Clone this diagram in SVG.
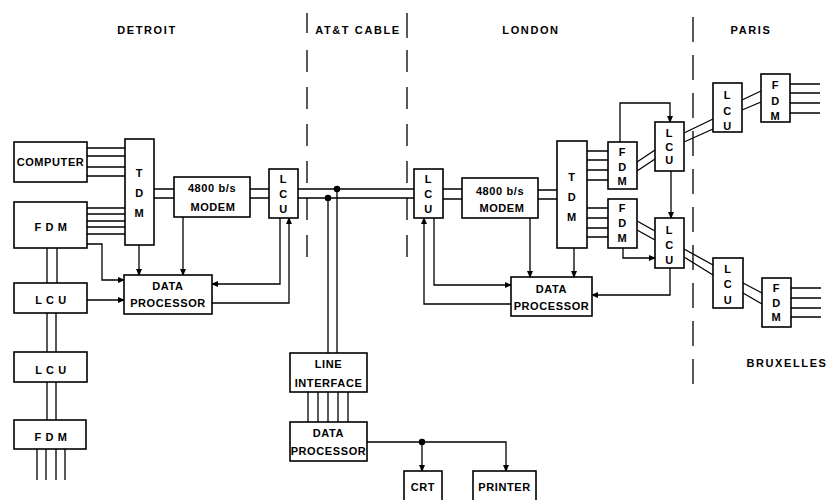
<svg xmlns="http://www.w3.org/2000/svg" width="834" height="500" viewBox="0 0 834 500">
<style>
.box{fill:#fff;stroke:#000;stroke-width:1.6}
.ln{fill:none;stroke:#000;stroke-width:1.3}
.t{font-family:"Liberation Sans",Arial,sans-serif;font-weight:bold;font-size:11px;text-anchor:middle;fill:#000;letter-spacing:0.6px}
.h{font-family:"Liberation Sans",Arial,sans-serif;font-weight:bold;font-size:11px;text-anchor:middle;fill:#000;letter-spacing:1.6px}
.dot{fill:#000}
</style>
<defs>
<marker id="ar" markerUnits="userSpaceOnUse" markerWidth="7" markerHeight="6" refX="6" refY="3" orient="auto">
<path d="M0,0 L7,3 L0,6 z" fill="#000"/>
</marker>
</defs>
<rect width="834" height="500" fill="#fff"/>

<g id="labels">
<text class="h" x="147" y="34">DETROIT</text>
<text class="h" x="358" y="34">AT&amp;T CABLE</text>
<text class="h" x="531" y="34">LONDON</text>
<text class="h" x="751" y="34">PARIS</text>
<text class="h" x="787" y="367">BRUXELLES</text>
</g>

<g id="boundaries" class="ln" stroke-width="1.5">
<line x1="307" y1="13" x2="307" y2="33"/>
<line x1="307" y1="50" x2="307" y2="257" stroke-dasharray="22 15"/>
<line x1="407" y1="13" x2="407" y2="38"/>
<line x1="407" y1="50" x2="407" y2="257" stroke-dasharray="22 15"/>
<line x1="693" y1="17" x2="693" y2="385" stroke-dasharray="25 13"/>
</g>

<g id="connectors" class="ln">
<!-- computer to TDM -->
<path d="M87,148H125M87,156H125M87,167H125M87,176H125"/>
<!-- FDM to TDM -->
<path d="M87,208H125M87,214H125M87,221H125M87,227H125M87,234H125"/>
<!-- TDM to modem, modem to LCU -->
<path d="M154,189H174M154,198H174M250,189H269M250,198H269"/>
<!-- down arrows to DP -->
<path d="M139,245V275" marker-end="url(#ar)"/>
<path d="M183,217V275" marker-end="url(#ar)"/>
<path d="M87,244H102V280H124" marker-end="url(#ar)"/>
<path d="M87,300H124" marker-end="url(#ar)"/>
<path d="M280,218V284H212" marker-end="url(#ar)"/>
<path d="M212,303H289V218" marker-end="url(#ar)"/>
<!-- left stack -->
<path d="M47,248V283M57,248V283M47,313V352M56,313V352M47,382V420M56,382V420"/>
<path d="M37,449V480M46,449V480M56,449V480M65,449V480"/>
<!-- cable -->
<path d="M298,189H414M298,198H414"/>
<path d="M337,189V353M328,198V353"/>
<!-- line interface to DP -->
<path d="M308,392V422M318,392V422M328,392V422M338,392V422M348,392V422"/>
<path d="M367,442H506V471" marker-end="url(#ar)"/>
<path d="M422,442V471" marker-end="url(#ar)"/>
<!-- London -->
<path d="M443,189H462M443,199H462M538,190H557M538,199H557"/>
<path d="M530,218V277" marker-end="url(#ar)"/>
<path d="M574,248V277" marker-end="url(#ar)"/>
<path d="M434,218V285H511" marker-end="url(#ar)"/>
<path d="M511,304H424V218" marker-end="url(#ar)"/>
<path d="M587,151H608M587,160H608M587,170H608M587,180H608"/>
<path d="M587,208H608M587,218H608M587,228H608M587,237H608"/>
<path d="M620,142V103H670V122" marker-end="url(#ar)"/>
<path d="M671,171V218" marker-end="url(#ar)"/>
<path d="M623,248V258H655" marker-end="url(#ar)"/>
<path d="M670,268V295H592" marker-end="url(#ar)"/>
<path d="M637,162L655,150M637,171L655,159"/>
<path d="M637,221L655,231M637,230L655,240"/>
<!-- Paris -->
<path d="M684,133L713,119M684,142L713,129"/>
<path d="M742,100L761,91M742,110L761,102"/>
<path d="M790,84H820M790,93H820M790,103H820M790,113H820"/>
<!-- Bruxelles -->
<path d="M684,249L713,265M684,257L713,275"/>
<path d="M743,283L762,293M743,293L762,304"/>
<path d="M791,288H821M791,298H821M791,308H821M791,317H821"/>
<circle class="dot" cx="337" cy="189" r="2.6"/>
<circle class="dot" cx="328" cy="198" r="2.6"/>
<circle class="dot" cx="422" cy="442" r="2.6"/>
</g>

<g id="computer"><rect class="box" x="14" y="142" width="73" height="40"/><text class="t" x="50.5" y="166">COMPUTER</text></g>
<g id="fdm-detroit"><rect class="box" x="14" y="202" width="73" height="46"/><text class="t" x="51" y="231">F D M</text></g>
<g id="tdm-detroit"><rect class="box" x="125" y="139" width="29" height="106"/>
<text class="t" x="139.5" y="177">T</text><text class="t" x="139.5" y="197">D</text><text class="t" x="139.5" y="217">M</text></g>
<g id="modem-detroit"><rect class="box" x="174" y="177" width="76" height="40"/><text class="t" x="212" y="192">4800 b/s</text><text class="t" x="213" y="211">MODEM</text></g>
<g id="lcu-detroit"><rect class="box" x="269" y="169" width="29" height="49"/>
<text class="t" x="283.5" y="183">L</text><text class="t" x="283.5" y="198">C</text><text class="t" x="283.5" y="213">U</text></g>
<g id="dp-detroit"><rect class="box" x="124" y="275" width="88" height="39"/><text class="t" x="168" y="290">DATA</text><text class="t" x="168" y="307">PROCESSOR</text></g>
<g id="lcu-1"><rect class="box" x="14" y="283" width="73" height="30"/><text class="t" x="51" y="304">L C U</text></g>
<g id="lcu-2"><rect class="box" x="14" y="352" width="73" height="30"/><text class="t" x="51" y="374">L C U</text></g>
<g id="fdm-2"><rect class="box" x="14" y="420" width="72" height="29"/><text class="t" x="51" y="441">F D M</text></g>

<g id="line-interface"><rect class="box" x="290" y="353" width="77" height="39"/><text class="t" x="328.5" y="368">LINE</text><text class="t" x="328.5" y="387">INTERFACE</text></g>
<g id="dp-cable"><rect class="box" x="290" y="422" width="77" height="39"/><text class="t" x="328.5" y="437">DATA</text><text class="t" x="328.5" y="455">PROCESSOR</text></g>
<g id="crt"><rect class="box" x="404" y="471" width="38" height="40"/><text class="t" x="423" y="491">CRT</text></g>
<g id="printer"><rect class="box" x="473" y="471" width="63" height="40"/><text class="t" x="504.5" y="491">PRINTER</text></g>

<g id="lcu-london"><rect class="box" x="414" y="169" width="29" height="49"/>
<text class="t" x="428.5" y="183">L</text><text class="t" x="428.5" y="198">C</text><text class="t" x="428.5" y="213">U</text></g>
<g id="modem-london"><rect class="box" x="462" y="178" width="76" height="40"/><text class="t" x="500" y="195">4800 b/s</text><text class="t" x="502" y="212">MODEM</text></g>
<g id="tdm-london"><rect class="box" x="557" y="141" width="30" height="107"/>
<text class="t" x="572" y="181">T</text><text class="t" x="572" y="201">D</text><text class="t" x="572" y="221">M</text></g>
<g id="dp-london"><rect class="box" x="511" y="277" width="81" height="39"/><text class="t" x="551.5" y="293">DATA</text><text class="t" x="551.5" y="310">PROCESSOR</text></g>
<g id="fdm-london-1"><rect class="box" x="608" y="142" width="29" height="47"/>
<text class="t" x="622.5" y="156">F</text><text class="t" x="622.5" y="171">D</text><text class="t" x="622.5" y="185">M</text></g>
<g id="fdm-london-2"><rect class="box" x="608" y="199" width="29" height="49"/>
<text class="t" x="622.5" y="212">F</text><text class="t" x="622.5" y="227">D</text><text class="t" x="622.5" y="242">M</text></g>
<g id="lcu-london-1"><rect class="box" x="655" y="122" width="29" height="49"/>
<text class="t" x="669.5" y="137">L</text><text class="t" x="669.5" y="151">C</text><text class="t" x="669.5" y="164">U</text></g>
<g id="lcu-london-2"><rect class="box" x="655" y="218" width="29" height="50"/>
<text class="t" x="669.5" y="234">L</text><text class="t" x="669.5" y="249">C</text><text class="t" x="669.5" y="264">U</text></g>

<g id="lcu-paris"><rect class="box" x="713" y="83" width="29" height="49"/>
<text class="t" x="727.5" y="99">L</text><text class="t" x="727.5" y="115">C</text><text class="t" x="727.5" y="130">U</text></g>
<g id="fdm-paris"><rect class="box" x="761" y="74" width="29" height="48"/>
<text class="t" x="775.5" y="89">F</text><text class="t" x="775.5" y="105">D</text><text class="t" x="775.5" y="120">M</text></g>
<g id="lcu-bruxelles"><rect class="box" x="713" y="258" width="30" height="50"/>
<text class="t" x="728" y="273">L</text><text class="t" x="728" y="288">C</text><text class="t" x="728" y="304">U</text></g>
<g id="fdm-bruxelles"><rect class="box" x="762" y="278" width="29" height="49"/>
<text class="t" x="776.5" y="292">F</text><text class="t" x="776.5" y="307">D</text><text class="t" x="776.5" y="321">M</text></g>
</svg>
